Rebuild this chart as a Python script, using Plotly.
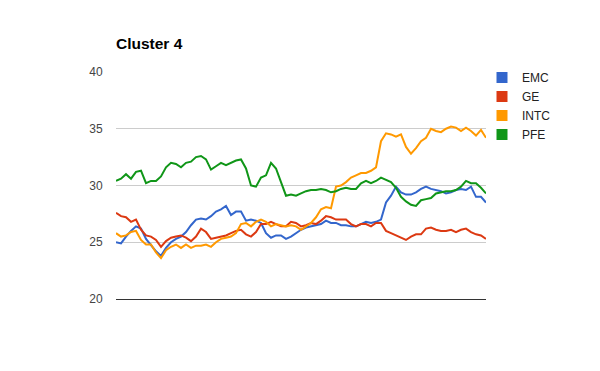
import plotly.graph_objects as go

title = "Cluster 4"
series_names = ["EMC", "GE", "INTC", "PFE"]
series_colors = ["#3366cc", "#dc3912", "#ff9900", "#109618"]

emc = [25.0, 24.9, 25.5, 26.0, 26.4, 26.2, 25.3, 24.7, 24.2, 23.8,
       24.5, 25.0, 25.3, 25.5, 25.9, 26.5, 27.0, 27.1, 27.0, 27.3,
       27.7, 27.9, 28.2, 27.4, 27.7, 27.7, 26.9, 27.0, 26.9, 26.7,
       25.8, 25.4, 25.6, 25.6, 25.3, 25.5, 25.8, 26.1, 26.3, 26.4,
       26.5, 26.6, 26.9, 26.7, 26.7, 26.5, 26.5, 26.4, 26.4, 26.6,
       26.8, 26.7, 26.8, 27.0, 28.5, 29.1, 29.9, 29.4, 29.2, 29.2,
       29.4, 29.7, 29.9, 29.7, 29.6, 29.5, 29.3, 29.4, 29.6, 29.7,
       29.6, 29.9, 29.0, 29.0, 28.5]

ge = [27.6, 27.3, 27.2, 26.8, 27.0, 26.1, 25.6, 25.5, 25.2, 24.6,
      25.1, 25.4, 25.5, 25.6, 25.4, 25.1, 25.5, 26.2, 25.9, 25.3,
      25.4, 25.5, 25.6, 25.8, 26.0, 26.1, 25.7, 25.5, 25.9, 26.6,
      26.6, 26.8, 26.6, 26.4, 26.4, 26.8, 26.7, 26.4, 26.5, 26.7,
      26.6, 26.9, 27.3, 27.2, 27.0, 27.0, 27.0, 26.6, 26.4, 26.6,
      26.6, 26.4, 26.7, 26.7, 26.0, 25.8, 25.6, 25.4, 25.2, 25.5,
      25.7, 25.7, 26.2, 26.3, 26.1, 26.0, 26.0, 26.1, 25.9, 26.1,
      26.2, 25.9, 25.7, 25.6, 25.3]

intc = [25.8, 25.5, 25.6, 25.9, 26.0, 25.2, 24.8, 24.8, 24.1, 23.6,
        24.3, 24.6, 24.8, 24.5, 24.8, 24.5, 24.7, 24.7, 24.8, 24.6,
        25.0, 25.3, 25.4, 25.5, 25.8, 26.6, 26.7, 26.4, 26.8, 27.0,
        26.8, 26.4, 26.6, 26.5, 26.4, 26.5, 26.4, 26.1, 26.4, 26.7,
        27.2, 27.9, 28.1, 28.0, 29.9, 30.0, 30.3, 30.7, 30.9, 31.1,
        31.1, 31.3, 31.6, 33.9, 34.6, 34.5, 34.3, 34.5, 33.4, 32.8,
        33.3, 33.9, 34.2, 35.0, 34.8, 34.7, 35.0, 35.2, 35.1, 34.8,
        35.1, 34.8, 34.4, 34.9, 34.2]

pfe = [30.4, 30.6, 31.0, 30.6, 31.2, 31.3, 30.2, 30.4, 30.4, 30.8,
       31.6, 32.0, 31.9, 31.6, 32.0, 32.1, 32.5, 32.6, 32.3, 31.4,
       31.7, 32.0, 31.8, 32.0, 32.2, 32.3, 31.5, 30.0, 29.9, 30.7,
       30.9, 32.0, 31.5, 30.3, 29.1, 29.2, 29.1, 29.3, 29.5, 29.6,
       29.6, 29.7, 29.6, 29.4, 29.5, 29.7, 29.8, 29.7, 29.7, 30.2,
       30.4, 30.2, 30.4, 30.7, 30.5, 30.3, 29.8, 29.0, 28.6, 28.3,
       28.2, 28.7, 28.8, 28.9, 29.3, 29.4, 29.5, 29.5, 29.6, 29.9,
       30.4, 30.2, 30.2, 29.8, 29.3]

y_ticks = [20, 25, 30, 35, 40]
x_index = list(range(len(emc)))
all_series = [emc, ge, intc, pfe]

FONT = "Liberation Sans, Arial, sans-serif"

fig = go.Figure()
for name, color, vals in zip(series_names, series_colors, all_series):
    fig.add_trace(go.Scatter(
        x=x_index, y=vals, mode="lines", name=name,
        line=dict(color=color, width=2), showlegend=False,
        hoverinfo="skip"))
# legend entries with square swatches
for name, color in zip(series_names, series_colors):
    fig.add_trace(go.Scatter(
        x=[None], y=[None], mode="markers", name=name,
        marker=dict(symbol="square", size=11, color=color),
        showlegend=True))

fig.update_layout(
    width=600, height=371,
    margin=dict(l=116, r=114, t=72, b=72),
    paper_bgcolor="white", plot_bgcolor="white",
    font=dict(family=FONT, size=12, color="#222222"),
    title=dict(text="<b>" + title + "</b>", x=116 / 600, xanchor="left",
               xref="container", yref="container",
               y=1 - 44 / 371, yanchor="middle",
               font=dict(family=FONT, size=15.5, color="#000000")),
    xaxis=dict(range=[0, len(emc) - 1], showgrid=False, zeroline=False,
               showticklabels=False, ticks="", showline=True,
               linecolor="#333333", linewidth=1),
    yaxis=dict(range=[20, 40], tickvals=y_ticks,
               ticktext=[str(v) for v in y_ticks],
               showgrid=True, gridcolor="#cccccc", gridwidth=1,
               zeroline=False, showline=False,
               ticks="outside", ticklen=10, tickcolor="rgba(0,0,0,0)",
               tickfont=dict(family=FONT, size=12, color="#444444")),
    legend=dict(x=(482 - 116) / 370, xanchor="left", y=(299 - 63) / 227,
                yanchor="top", yref="paper",
                font=dict(family=FONT, size=12, color="#222222"),
                bgcolor="rgba(0,0,0,0)", tracegroupgap=0),
    showlegend=True,
)

fig.write_html("out.html",
               config={"displayModeBar": False},
               post_script="document.body.style.margin='0';"
                           "document.body.style.padding='0';")
